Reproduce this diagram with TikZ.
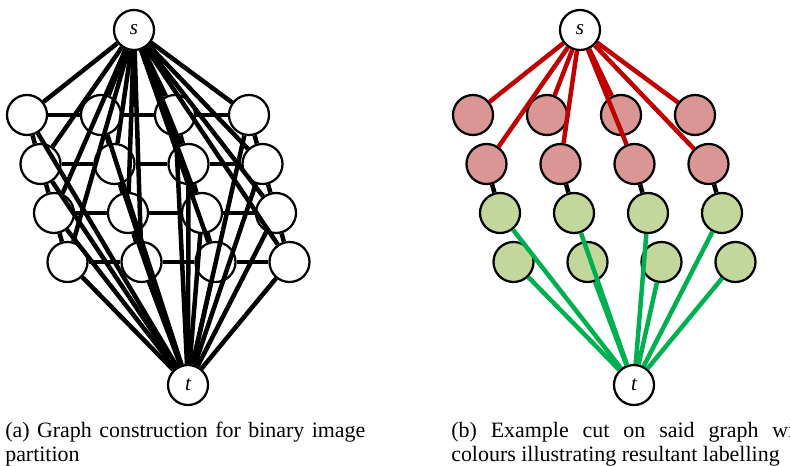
\documentclass[tikz,border=0pt]{standalone}
\usepackage{fontspec}
\setmainfont{Liberation Serif}
\usetikzlibrary{positioning}
\definecolor{cutred}{HTML}{C00000}
\definecolor{srcfill}{HTML}{D99694}
\definecolor{sinkfill}{HTML}{C3D69B}
\definecolor{cutgreen}{HTML}{00B050}
\tikzset{
  pixel/.style={circle, draw=black, fill=white, line width=1.6pt, minimum size=1cm, inner sep=0pt},
  term/.style={pixel, font=\itshape\fontsize{15}{15}\selectfont},
  srcpix/.style={pixel, fill=srcfill},
  sinkpix/.style={pixel, fill=sinkfill},
  link/.style={line width=3.2pt, draw=black},
  slink/.style={link, draw=cutred},
  tlink/.style={link, draw=cutgreen},
  caption/.style={text width=9cm, align=justify, inner sep=0pt, anchor=north west,
    font=\fontsize{15.6}{17}\selectfont}
}

\begin{document}
\begin{tikzpicture}[x=0.025cm, y=-0.025cm]
  \useasboundingbox (0,0) rectangle (790,466);
  \clip (0,0) rectangle (790,466);

  % (a) graph construction
  \node[term] (sA) at (134,30) {s};
  \node[term] (tA) at (188,385) {t};
  \foreach \r in {1,...,4}
    \foreach \c in {1,...,4}
      \node[pixel] (a\r\c) at ({27+13.5*(\r-1)+74*(\c-1)}, {115+49*(\r-1)}) {};

  \foreach \r in {1,...,4}
    \foreach \c/\d in {1/2,2/3,3/4}
      \draw[link] (a\r\c) -- (a\r\d);
  \foreach \r/\q in {1/2,2/3,3/4}
    \foreach \c in {1,...,4}
      \draw[link] (a\r\c) -- (a\q\c);
  \foreach \r in {1,...,4}
    \foreach \c in {1,...,4} {
      \draw[link] (sA) -- (a\r\c);
      \draw[link] (a\r\c) -- (tA);
    }

  % (b) example cut
  \node[term] (sB) at (580,30) {s};
  \node[term] (tB) at (634,385) {t};
  \foreach \r in {1,2}
    \foreach \c in {1,...,4}
      \node[srcpix] (b\r\c) at ({473+13.5*(\r-1)+74*(\c-1)}, {115+49*(\r-1)}) {};
  \foreach \r in {3,4}
    \foreach \c in {1,...,4}
      \node[sinkpix] (b\r\c) at ({473+13.5*(\r-1)+74*(\c-1)}, {115+49*(\r-1)}) {};

  \foreach \c in {1,...,4}
    \draw[link] (b2\c) -- (b3\c);
  \foreach \r in {1,2}
    \foreach \c in {1,...,4}
      \draw[slink] (sB) -- (b\r\c);
  \foreach \r in {3,4}
    \foreach \c in {1,...,4}
      \draw[tlink] (b\r\c) -- (tB);

  % captions
  \node[caption] (capA) at (5,422) {(a) Graph construction for binary image partition};
  \node[caption] (capB) at (451,422) {(b) Example cut on said graph with\linebreak colours illustrating resultant labelling};
\end{tikzpicture}
\end{document}
